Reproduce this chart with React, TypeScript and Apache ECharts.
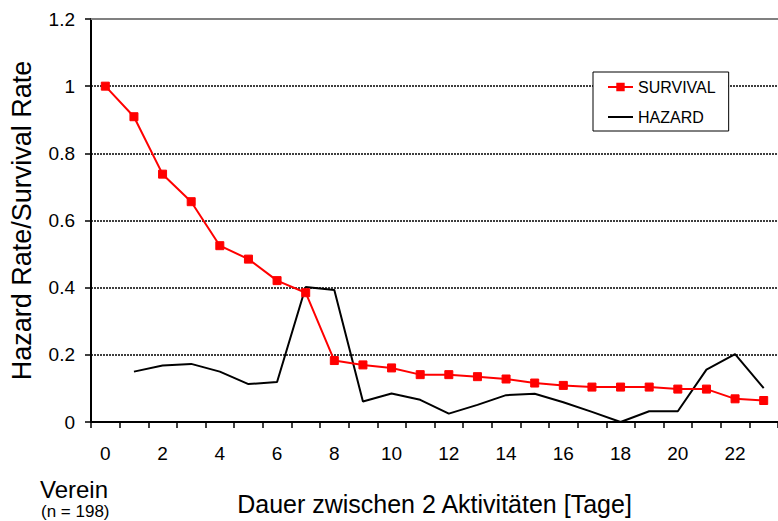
import React, { useEffect, useRef } from "react";
import * as echarts from "echarts";

const categories = ["0","1","2","3","4","5","6","7","8","9","10","11","12","13","14","15","16","17","18","19","20","21","22","23"];
const survival = [1.0, 0.909, 0.738, 0.656, 0.525, 0.485, 0.421, 0.385, 0.183, 0.17, 0.161, 0.141, 0.141, 0.135, 0.128, 0.116, 0.109, 0.104, 0.104, 0.104, 0.098, 0.098, 0.069, 0.064];
const hazard = [null, 0.15, 0.168, 0.173, 0.15, 0.113, 0.119, 0.402, 0.393, 0.061, 0.085, 0.066, 0.025, 0.051, 0.08, 0.084, 0.059, 0.03, 0.0, 0.032, 0.032, 0.156, 0.202, 0.101];
const seriesNames = ["SURVIVAL", "HAZARD"];
const yAxisTitle = "Hazard Rate/Survival Rate";
const xAxisTitle = "Dauer zwischen 2 Aktivitäten [Tage]";
const groupLabel = "Verein";
const sampleLabel = "(n = 198)";

const FONT = "'Liberation Sans', Arial, Helvetica, sans-serif";

export default function App() {
  const ref = useRef<HTMLDivElement>(null);
  useEffect(() => {
    if (!ref.current) return;
    const chart = echarts.init(ref.current, null, { renderer: "svg" });
    chart.setOption({
      animation: false,
      backgroundColor: "#ffffff",
      textStyle: { fontFamily: FONT },
      grid: { left: 89, top: 19, width: 696, height: 406, containLabel: false },
      legend: {
        data: [
          { name: seriesNames[0] },
          { name: seriesNames[1], icon: "path://M0,0 L25,0 L25,2 L0,2 Z", itemStyle: { color: "#000" } },
        ],
        orient: "vertical",
        left: 593,
        top: 72,
        width: 137,
        padding: [7, 13, 6, 14],
        itemGap: 14,
        itemWidth: 25,
        itemHeight: 8,
        backgroundColor: "#ffffff",
        borderColor: "#000000",
        borderWidth: 1,
        textStyle: { fontFamily: FONT, fontSize: 16, color: "#000", padding: [0, 0, 0, 0] },
      },
      xAxis: [
        {
          type: "category",
          data: categories,
          boundaryGap: true,
          axisLine: { show: true, lineStyle: { color: "#000", width: 2 } },
          axisTick: { show: true, interval: 0, length: 6, lineStyle: { color: "#000", width: 1.5 } },
          axisLabel: { interval: 1, color: "#000", fontSize: 19, fontFamily: FONT, margin: 22 },
          splitLine: { show: false },
          name: xAxisTitle,
          nameLocation: "middle",
          nameGap: 69,
          nameTextStyle: { fontSize: 25, fontFamily: FONT, color: "#000" },
        },
        {
          type: "category",
          data: categories,
          position: "top",
          axisLine: { show: true, lineStyle: { color: "#808080", width: 2 } },
          axisTick: { show: false },
          axisLabel: { show: false },
          splitLine: { show: false },
        },
      ],
      yAxis: {
        type: "value",
        min: 0,
        max: 1.2,
        interval: 0.2,
        axisLine: { show: true, lineStyle: { color: "#000", width: 2 } },
        axisTick: { show: true, length: 6, lineStyle: { color: "#000", width: 1.5 } },
        axisLabel: { color: "#000", fontSize: 19, fontFamily: FONT, margin: 16 },
        splitLine: {
          show: true,
          showMinLine: false,
          showMaxLine: false,
          lineStyle: { color: "#000", width: 1.5, type: [2, 1] },
        },
        name: yAxisTitle,
        nameLocation: "middle",
        nameRotate: 90,
        nameGap: 56,
        nameTextStyle: { fontSize: 27, fontFamily: FONT, color: "#000" },
      },
      series: [
        {
          name: "HAZARD",
          type: "line",
          data: hazard,
          symbol: "none",
          connectNulls: false,
          lineStyle: { color: "#000", width: 2 },
          itemStyle: { color: "#000" },
          z: 2,
        },
        {
          name: "SURVIVAL",
          type: "line",
          data: survival,
          symbol: "rect",
          symbolSize: 8,
          lineStyle: { color: "#ff0000", width: 2 },
          itemStyle: { color: "#ff0000", borderColor: "#ff0000", borderWidth: 1 },
          z: 3,
        },
      ],
      graphic: [
        {
          type: "text",
          left: 40,
          top: 477,
          style: { text: groupLabel, fontSize: 24, lineHeight: 24, fontFamily: FONT, fill: "#000" },
        },
        {
          type: "text",
          left: 41,
          top: 502,
          style: { text: sampleLabel, fontSize: 17, lineHeight: 18, fontFamily: FONT, fill: "#000" },
        },
      ],
    });
    return () => chart.dispose();
  }, []);
  return (
    <div
      ref={ref}
      style={{ position: "fixed", left: 0, top: 0, width: 778, height: 521, background: "#fff" }}
    />
  );
}
